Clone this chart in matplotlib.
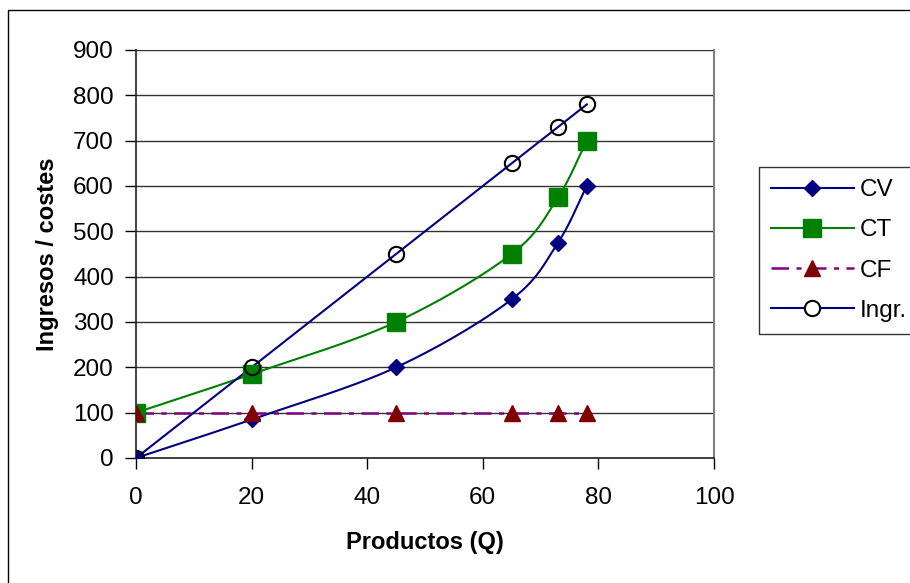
import numpy as np
import matplotlib
matplotlib.use("Agg")
import matplotlib.pyplot as plt
from matplotlib.patches import Rectangle
from matplotlib.lines import Line2D

plt.rcParams['font.family'] = ['Liberation Sans', 'DejaVu Sans']

# Data
q = [0, 20, 45, 65, 73, 78]
cv = [0, 85, 200, 350, 475, 600]
ct = [100, 185, 300, 450, 575, 700]
cf = [100, 100, 100, 100, 100, 100]
ingr = [0, 200, 450, 650, 730, 780]
series_names = ["CV", "CT", "CF", "Ingr."]
xticks = [0, 20, 40, 60, 80, 100]
yticks = [0, 100, 200, 300, 400, 500, 600, 700, 800, 900]


def smooth(x, y, n=30):
    """Catmull-Rom style smoothing of the drawn line (Excel 'smoothed line')."""
    x = np.asarray(x, float)
    y = np.asarray(y, float)
    px = np.concatenate([[2 * x[0] - x[1]], x, [2 * x[-1] - x[-2]]])
    py = np.concatenate([[2 * y[0] - y[1]], y, [2 * y[-1] - y[-2]]])
    xs, ys = [], []
    for i in range(1, len(px) - 2):
        p0, p1, p2, p3 = (np.array([px[j], py[j]]) for j in range(i - 1, i + 3))
        c1 = p1 + (p2 - p0) / 6.0
        c2 = p2 - (p3 - p1) / 6.0
        t = np.linspace(0, 1, n)[:, None]
        b = ((1 - t) ** 3) * p1 + 3 * ((1 - t) ** 2) * t * c1 + 3 * (1 - t) * t ** 2 * c2 + t ** 3 * p2
        xs.extend(b[:, 0]); ys.extend(b[:, 1])
    return np.array(xs), np.array(ys)


fig = plt.figure(figsize=(9.1, 5.83), dpi=100)
W, H = 910, 583
fig.patches.append(Rectangle((8 / W, -0.1), 1.2, 1 - 10 / H + 0.1, transform=fig.transFigure,
                             fill=False, edgecolor='black', linewidth=1.0))

ax = fig.add_axes([136 / W, (583 - 458) / H, (714 - 136) / W, (458 - 50) / H])
ax.set_xlim(0, 100)
ax.set_ylim(0, 900)

navy = '#000080'
green = '#008000'
purple = '#800080'
darkred = '#800000'
LW = 1.5

sx, sy = smooth(q, cv)
ax.plot(sx, sy, color=navy, lw=LW, zorder=3)
ax.plot(q, cv, ls='none', marker='D', ms=8.5, mfc=navy, mec=navy, zorder=4)

sx, sy = smooth(q, ct)
ax.plot(sx, sy, color=green, lw=LW, zorder=3)
ax.plot(q, ct, ls='none', marker='s', ms=12.5, mfc=green, mec=green, zorder=4)

ax.plot(q, cf, color=purple, lw=1.8, dashes=(7, 3, 2, 3), zorder=3)
ax.plot(q, cf, ls='none', marker='^', ms=11, mfc=darkred, mec=darkred, zorder=4)

sx, sy = smooth(q, ingr)
ax.plot(sx, sy, color=navy, lw=LW, zorder=3)
ax.plot(q, ingr, ls='none', marker='o', ms=11, mfc='none', mec='black', mew=1.5, zorder=5)

ax.set_xticks(xticks)
ax.set_yticks(yticks)
ax.tick_params(axis='both', direction='out', length=8, width=1, labelsize=17.5, colors='black')
ax.tick_params(axis='x', pad=13)
ax.tick_params(axis='y', pad=8)
ax.yaxis.grid(True, color='#333333', lw=1)
ax.set_axisbelow(True)
for s in ['left', 'bottom']:
    ax.spines[s].set_color('#222222')
    ax.spines[s].set_linewidth(1.2)
ax.spines['top'].set_visible(False)
ax.spines['right'].set_color('#808080')
ax.spines['right'].set_linewidth(1.5)

ax.set_xlabel("Productos (Q)", fontsize=17, fontweight='bold', labelpad=16)
ax.set_ylabel("Ingresos / costes", fontsize=17, fontweight='bold', labelpad=10)

handles = [
    Line2D([], [], color=navy, lw=LW, marker='D', ms=8.5, mfc=navy, mec=navy),
    Line2D([], [], color=green, lw=LW, marker='s', ms=12.5, mfc=green, mec=green),
    Line2D([], [], color=purple, lw=1.8, dashes=(7, 3, 2, 3), marker='^', ms=11, mfc=darkred, mec=darkred),
    Line2D([], [], color=navy, lw=LW, marker='o', ms=11, mfc='white', mec='black', mew=1.5),
]
leg = fig.legend(handles, series_names, loc='upper left', bbox_to_anchor=(759 / W, 1 - 167 / H),
                 fontsize=17.5, frameon=True, fancybox=False, edgecolor='black', handlelength=3.4,
                 labelspacing=0.75, borderpad=0.5, handletextpad=0.25, borderaxespad=0)
leg.get_frame().set_linewidth(1.0)

fig.savefig("out.png", dpi=100)
